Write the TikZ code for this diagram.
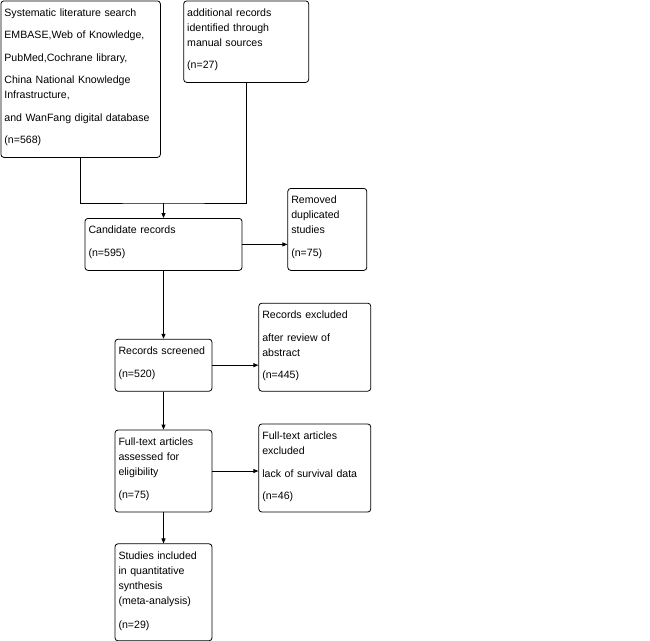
\documentclass[tikz,border=0pt]{standalone}
\usepackage{fontspec}
\setsansfont{Liberation Sans}
\tikzset{every picture/.style={/utils/exec={\sffamily}}}
\usetikzlibrary{calc}
\usetikzlibrary{positioning}
\usetikzlibrary{arrows.meta}

\begin{document}
\begin{tikzpicture}[
    record/.style 2 args={draw, rounded corners=3pt, align=left,
      font=\fontsize{10.6pt}{15pt}\selectfont, text width=#1,
      text height=11.5pt, text depth=#2, inner xsep=3.5pt, inner ysep=4pt},
    link/.style={-{Triangle[length=5pt,width=4pt]}},
    line width=0.8pt]
  \useasboundingbox (0,0) rectangle (650pt,-640pt);

  % sources
  \node [record={152.5pt}{137pt}, anchor=north west] (search) at (0.5pt,-0.5pt)
    {Systematic literature search\\[7.5pt] EMBASE,Web of Knowledge,\\[7.5pt]
     PubMed,Cochrane library,\\[7.5pt] China National Knowledge\\ Infrastructure,\\[7.5pt]
     and WanFang digital database\\[7.5pt] (n=568)};
  \node [record={118pt}{62pt}, right=22.5pt of search.north east, anchor=north west] (manual)
    {additional records\\ identified through\\ manual sources\\[7.5pt] (n=27)};

  % main column
  \node [record={150pt}{32.5pt}, anchor=north] (cand) at (163.5pt,-218pt)
    {Candidate records\\[7.5pt] (n=595)};
  \node [record={90pt}{32.5pt}, below=68pt of cand] (scr)
    {Records screened\\[7.5pt] (n=520)};
  \node [record={90pt}{62.5pt}, below=38pt of scr] (full)
    {Full-text articles\\ assessed for\\ eligibility\\[7.5pt] (n=75)};
  \node [record={90pt}{77.5pt}, below=31pt of full] (incl)
    {Studies included\\ in quantitative\\ synthesis\\ (meta-analysis)\\[9pt] (n=29)};

  % exclusions
  \node [record={72pt}{62.5pt}, right=45pt of cand.south east, anchor=south west] (dupl)
    {Removed\\ duplicated\\ studies\\[7.5pt] (n=75)};
  \node [record={105pt}{68.5pt}, right=46pt of scr.south east, anchor=south west] (absx)
    {Records excluded\\[7.5pt] after review of\\ abstract\\[7.5pt] (n=445)};
  \node [record={105pt}{68.5pt}, right=46pt of full.south east, anchor=south west] (fullx)
    {Full-text articles\\ excluded\\[7.5pt] lack of survival data\\[7.5pt] (n=46)};

  \coordinate (merge) at ($(cand.north)+(0,15pt)$);
  \draw (search.south) |- (merge) -| (manual.south);
  \draw [link] (merge) -- (cand);
  \draw [link] (cand) -- (scr);
  \draw [link] (scr) -- (full);
  \draw [link] (full) -- (incl);
  \draw [link] (cand.east) -- (cand.east -| dupl.west);
  \draw [link] (scr.east) -- (scr.east -| absx.west);
  \draw [link] (full.east) -- (full.east -| fullx.west);
\end{tikzpicture}
\end{document}
